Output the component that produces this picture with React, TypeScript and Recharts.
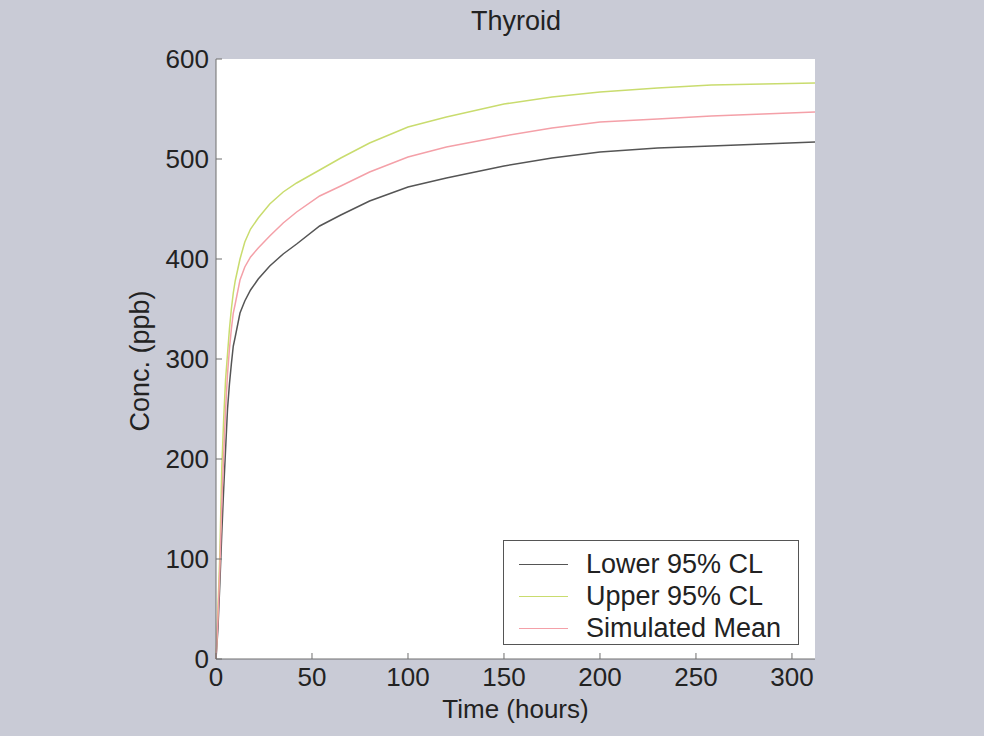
import React from "react";
import { Line, LineChart, XAxis, YAxis } from "recharts";

const hours = [
  0, 1, 2, 3, 4, 5, 6, 7, 8, 9, 10, 12.5, 15, 18, 22, 28, 35, 42, 54, 65, 80,
  100, 120, 150, 175, 200, 230, 258, 285, 312,
];
const lower95 = [
  0, 30, 75, 125, 170, 210, 250, 275, 295, 313, 322, 346, 358, 369, 380, 393,
  405, 415, 433, 444, 458, 472, 481, 493, 501, 507, 511, 513, 515, 517,
];
const upper95 = [
  0, 50, 105, 190, 240, 280, 305, 330, 350, 366, 378, 400, 417, 430, 441, 455,
  467, 476, 489, 501, 516, 532, 542, 555, 562, 567, 571, 574, 575, 576,
];
const simMean = [
  0, 40, 90, 155, 205, 250, 285, 310, 330, 346, 355, 379, 392, 402, 411, 423,
  436, 447, 463, 473, 487, 502, 512, 523, 531, 537, 540, 543, 545, 547,
];

const xTicks = [0, 50, 100, 150, 200, 250, 300];
const yTicks = [0, 100, 200, 300, 400, 500, 600];

const SERIES = [
  { key: "lower", name: "Lower 95% CL", color: "#555555" },
  { key: "upper", name: "Upper 95% CL", color: "#c9dc6e" },
  { key: "mean", name: "Simulated Mean", color: "#f4a0a8" },
];

const data = hours.map((h, i) => ({
  hours: h,
  lower: lower95[i],
  upper: upper95[i],
  mean: simMean[i],
}));

const FONT = "'Liberation Sans', Arial, sans-serif";
const AXIS_COLOR = "#6f6f6f";
const TEXT_COLOR = "#222";

const XTick = (props: any) => {
  const { x, y, payload } = props;
  return (
    <g>
      <line x1={x} x2={x} y1={y} y2={y - 6} stroke={AXIS_COLOR} />
      <text
        x={x}
        y={y + 27}
        textAnchor="middle"
        fontSize={26}
        fontFamily={FONT}
        fill={TEXT_COLOR}
      >
        {payload.value}
      </text>
    </g>
  );
};

const YTick = (props: any) => {
  const { x, y, payload } = props;
  return (
    <g>
      <line x1={x} x2={x + 6} y1={y} y2={y} stroke={AXIS_COLOR} />
      <text
        x={x - 7}
        y={y + 9}
        textAnchor="end"
        fontSize={26}
        fontFamily={FONT}
        fill={TEXT_COLOR}
      >
        {payload.value}
      </text>
    </g>
  );
};

const App: React.FC = () => {
  return (
    <div
      style={{
        position: "absolute",
        left: 0,
        top: 0,
        width: 984,
        height: 736,
        background: "#c9cbd6",
        fontFamily: FONT,
      }}
    >
      <div
        style={{
          position: "absolute",
          left: 216,
          width: 600,
          top: 6,
          textAlign: "center",
          fontSize: 27,
          color: TEXT_COLOR,
        }}
      >
        Thyroid
      </div>
      <LineChart
        width={984}
        height={736}
        data={data}
        margin={{ top: 59, right: 169, bottom: 47, left: 130 }}
        style={{ position: "absolute", left: 0, top: 0 }}
      >
        <rect x={216} y={59} width={599} height={600} fill="#ffffff" />
        <XAxis
          dataKey="hours"
          type="number"
          domain={[0, 312]}
          ticks={xTicks}
          height={30}
          tickSize={0}
          tickMargin={0}
          tick={<XTick />}
          stroke={AXIS_COLOR}
          label={{
            content: ({ viewBox }: any) => (
              <text
                x={viewBox.x + viewBox.width / 2}
                y={viewBox.y + 59}
                textAnchor="middle"
                fontSize={26}
                fontFamily={FONT}
                fill={TEXT_COLOR}
              >
                Time (hours)
              </text>
            ),
          }}
        />
        <YAxis
          type="number"
          domain={[0, 600]}
          ticks={yTicks}
          width={86}
          tickSize={0}
          tickMargin={0}
          tick={<YTick />}
          stroke={AXIS_COLOR}
          label={{
            content: ({ viewBox }: any) => {
              const cx = viewBox.x + 10;
              const cy = viewBox.y + viewBox.height / 2 + 2;
              return (
                <text
                  x={cx}
                  y={cy}
                  transform={`rotate(-90, ${cx}, ${cy})`}
                  textAnchor="middle"
                  dominantBaseline="central"
                  fontSize={27}
                  fontFamily={FONT}
                  fill={TEXT_COLOR}
                >
                  Conc. (ppb)
                </text>
              );
            },
          }}
        />
        {SERIES.map((s) => (
          <Line
            key={s.key}
            dataKey={s.key}
            name={s.name}
            type="linear"
            stroke={s.color}
            strokeWidth={1.5}
            dot={false}
            isAnimationActive={false}
          />
        ))}
      </LineChart>
      <div
        style={{
          position: "absolute",
          left: 503,
          top: 540,
          width: 296,
          height: 105,
          background: "#fff",
          border: "1px solid #555",
          boxSizing: "border-box",
          paddingTop: 7,
        }}
      >
        {SERIES.map((s) => (
          <div
            key={s.key}
            style={{
              display: "flex",
              alignItems: "center",
              height: 32,
              fontSize: 27,
              color: TEXT_COLOR,
            }}
          >
            <div
              style={{
                width: 49,
                height: 0,
                borderTop: `1.5px solid ${s.color}`,
                marginLeft: 15,
                marginRight: 18,
              }}
            />
            {s.name}
          </div>
        ))}
      </div>
    </div>
  );
};

export default App;
